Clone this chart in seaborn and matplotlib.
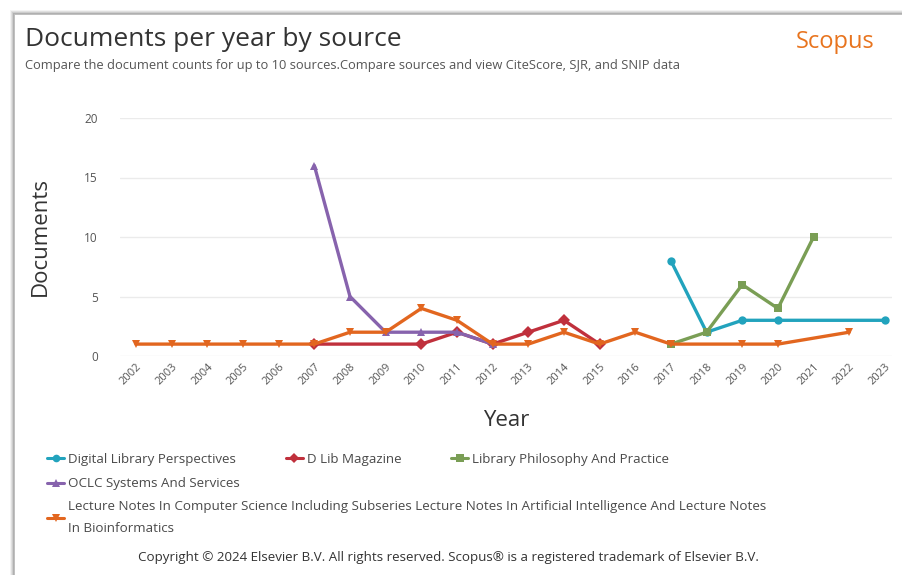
import matplotlib
matplotlib.use("Agg")
import matplotlib.pyplot as plt
import matplotlib.patches as mpatches
import seaborn as sns
import pandas as pd

# Document counts per year, one list per source
dlp_years = [2017, 2018, 2019, 2020, 2023]
dlp_counts = [8, 2, 3, 3, 3]

dlib_years = [2007, 2010, 2011, 2012, 2013, 2014, 2015]
dlib_counts = [1, 1, 2, 1, 2, 3, 1]

lpp_years = [2017, 2018, 2019, 2020, 2021]
lpp_counts = [1, 2, 6, 4, 10]

oclc_years = [2007, 2008, 2009, 2010, 2011, 2012]
oclc_counts = [16, 5, 2, 2, 2, 1]

lncs_years = [2002, 2003, 2004, 2005, 2006, 2007, 2008, 2009, 2010, 2011, 2012,
              2013, 2014, 2015, 2016, 2017, 2019, 2020, 2022]
lncs_counts = [1, 1, 1, 1, 1, 1, 2, 2, 4, 3, 1, 1, 2, 1, 2, 1, 1, 1, 2]

sources = [
    "Digital Library Perspectives",
    "D Lib Magazine",
    "Library Philosophy And Practice",
    "OCLC Systems And Services",
    "Lecture Notes In Computer Science Including Subseries Lecture Notes In Artificial Intelligence And Lecture Notes\nIn Bioinformatics",
]
year_ticks = list(range(2002, 2024))

colors = ["#22a3bd", "#c0303c", "#7a9e55", "#8763ad", "#e2661f"]
markers = ["o", "D", "s", "^", "v"]

frames = []
for name, yrs, cnts in zip(sources,
                           [dlp_years, dlib_years, lpp_years, oclc_years, lncs_years],
                           [dlp_counts, dlib_counts, lpp_counts, oclc_counts, lncs_counts]):
    frames.append(pd.DataFrame({"Year": yrs, "Documents": cnts, "Source": name}))
df = pd.concat(frames, ignore_index=True)

sns.set_theme(style="white")
plt.rcParams["font.family"] = ["Open Sans", "DejaVu Sans"]

W, H = 902, 575
fig = plt.figure(figsize=(W / 100, H / 100), dpi=100)
fig.patch.set_facecolor("white")

# Card outline with a soft shadow on the top and left edges
for i, a in enumerate([0.10, 0.18, 0.30, 0.55]):
    off = 3 - i
    fig.patches.append(mpatches.Rectangle(
        ((14 - off) / W, -0.2), 2.0, (H - 14 + off) / H + 0.2,
        transform=fig.transFigure, fill=False, edgecolor="#8a8a8a",
        linewidth=1.4, alpha=a, zorder=0))

ax = fig.add_axes([120 / W, 1 - 356 / H, (892 - 120) / W, (356 - 118) / H])

palette = dict(zip(sources, colors))
marker_map = dict(zip(sources, markers))
sns.lineplot(data=df, x="Year", y="Documents", hue="Source", style="Source",
             hue_order=sources, style_order=sources, palette=palette,
             markers=marker_map, dashes=False, linewidth=2.4, markersize=6,
             markeredgewidth=0, ax=ax, legend=True, sort=True)

for line in ax.lines:
    line.set_clip_on(False)

ax.set_xlim(2001.55, 2023.2)
ax.set_ylim(0, 20)
ax.set_yticks([0, 5, 10, 15, 20])
ax.set_xticks(year_ticks)
ax.set_xticklabels([str(y) for y in year_ticks], rotation=45, ha="right",
                   rotation_mode="anchor", fontsize=8, color="#555555")
ax.tick_params(axis="y", labelsize=8.5, colors="#555555", pad=16, length=0)
ax.tick_params(axis="x", pad=4, length=0)
ax.grid(axis="y", color="#ebebeb", linewidth=1)
for s in ax.spines.values():
    s.set_visible(False)
ax.set_xlabel("Year", fontsize=16, color="#333333", labelpad=16)
ax.set_ylabel("Documents", fontsize=16, color="#333333", labelpad=24)

# Legend below the plot, rebuilt from the plotted lines
handles, labels = ax.get_legend_handles_labels()
ax.get_legend().remove()
hmap = dict(zip(labels, handles))
leg_kw = dict(frameon=False, fontsize=9.6, handlelength=1.3, handletextpad=0.3,
              labelcolor="#4a4a4a", borderaxespad=0, borderpad=0)
leg1 = fig.legend([hmap[s] for s in sources[:3]], sources[:3], ncol=3,
                  loc="center left", bbox_to_anchor=(47 / W, 1 - 459 / H),
                  columnspacing=3.7, **leg_kw)
leg2 = fig.legend([hmap[sources[3]]], [sources[3]], loc="center left",
                  bbox_to_anchor=(47 / W, 1 - 484 / H), **leg_kw)
leg3 = fig.legend([hmap[sources[4]]], [sources[4]], loc="upper left",
                  bbox_to_anchor=(47 / W, 1 - 500 / H), **leg_kw)
for lg in (leg1, leg2, leg3):
    for t in lg.get_texts():
        t.set_linespacing(1.85)
    for h in lg.legend_handles:
        h.set_linewidth(2.2)
        h.set_markersize(5.5)

fig.text(25 / W, 1 - 39 / H, "Documents per year by source", fontsize=19,
         color="#333333", va="center", ha="left")
fig.text(25 / W, 1 - 65 / H,
         "Compare the document counts for up to 10 sources.Compare sources and view CiteScore, SJR, and SNIP data",
         fontsize=9.3, color="#555555", va="center", ha="left")
fig.text(875 / W, 1 - 42 / H, "Scopus", fontsize=17, color="#e8741e",
         va="center", ha="right")
fig.text(448 / W, 1 - 558 / H,
         "Copyright \u00a9 2024 Elsevier B.V. All rights reserved. Scopus\u00ae is a registered trademark of Elsevier B.V.",
         fontsize=9.6, color="#333333", va="center", ha="center")

fig.savefig("out.png", dpi=100, facecolor="white")
